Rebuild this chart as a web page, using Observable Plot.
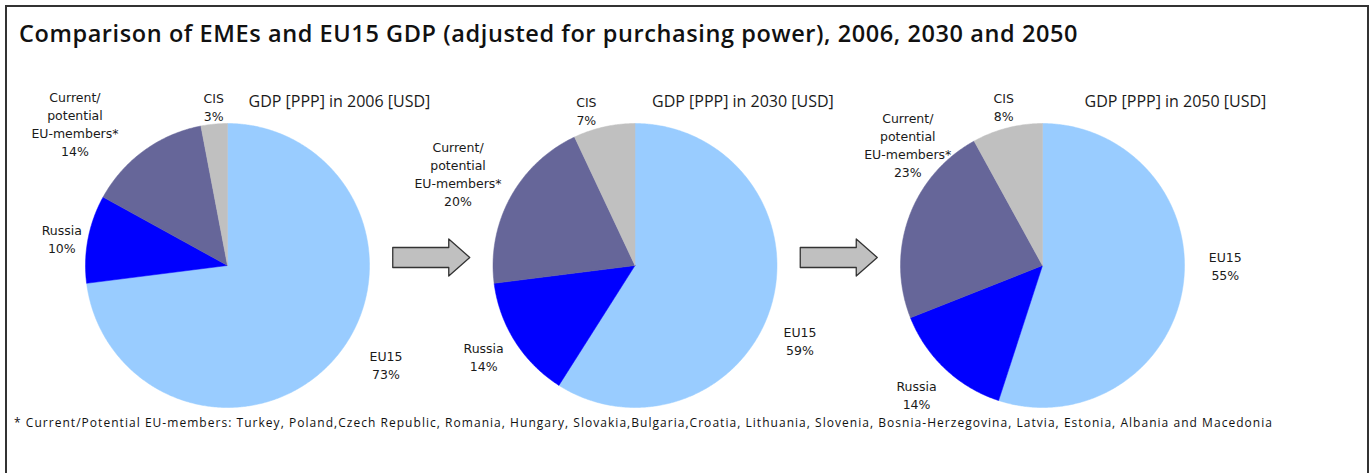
<!DOCTYPE html>
<html><head><meta charset="utf-8">
<script src="https://cdn.jsdelivr.net/npm/d3@7"></script>
<script src="https://cdn.jsdelivr.net/npm/@observablehq/plot@0.6"></script>
<style>
html,body{margin:0;padding:0;background:#fff;}
#wrap{position:relative;width:1372px;height:473px;overflow:hidden;}
#chart{position:absolute;left:0;top:0;}
#frame{position:absolute;left:5px;top:5px;width:1364px;height:480px;border:2px solid #333;border-bottom:none;box-sizing:border-box;pointer-events:none;}
#title{position:absolute;left:19px;top:22px;font-family:"Open Sans";font-weight:600;font-size:23.5px;line-height:23.5px;white-space:nowrap;color:#111;}
#note{position:absolute;left:14px;top:417px;font-family:"Open Sans";font-size:12px;line-height:12px;white-space:nowrap;color:#111;}
</style></head><body>
<div id="wrap"><div id="chart"></div><div id="frame"></div><div id="title"></div><div id="note"></div></div>
<script>
// ---- data ----
const years = [2006, 2030, 2050];
const categories = ["EU15", "Russia", "Current/potential EU-members*", "CIS"];
const labelNames = ["EU15", "Russia", "Current/\npotential\nEU-members*", "CIS"];
const share2006 = [73, 10, 14, 3];
const share2030 = [59, 14, 20, 7];
const share2050 = [55, 14, 23, 8];
const colors = ["#99CCFF", "#0000FF", "#666699", "#C0C0C0"];
const titleText = "Comparison of EMEs and EU15 GDP (adjusted for purchasing power), 2006, 2030 and 2050";
const noteText = "* Current/Potential EU-members: Turkey, Poland,Czech Republic, Romania, Hungary, Slovakia,Bulgaria,Croatia, Lithuania, Slovenia, Bosnia-Herzegovina, Latvia, Estonia, Albania and Macedonia";

// ---- layout ----
const W = 1372, H = 473;
const cx0 = 227, pieStep = 407.5, cy = 265, R = 142;
// manual label nudges (px) per pie, per category, like hand-placed labels in the original
const labelNudge = [
  [[30, -15], [5, 5], [-34, 21], [2, 7]],
  [[4, 28], [-2, -4], [0, 5], [-12, 9]],
  [[19, -26], [-5, 0], [53, -54], [3, 4]]
];
const pieTitleNudge = [21, 17, 42];
const shares = [share2006, share2030, share2050];

const slicePts = [];
const labels = [];
years.forEach((yr, i) => {
  const cx = cx0 + i * pieStep;
  const arcs = d3.pie().sort(null).value(d => d)(shares[i]);
  arcs.forEach((a, j) => {
    const key = yr + "-" + j;
    const cat = categories[j];
    slicePts.push({key, cat, x: cx, y: cy});
    const n = Math.max(2, Math.ceil((a.endAngle - a.startAngle) / (Math.PI / 360)));
    for (let k = 0; k <= n; k++) {
      const t = a.startAngle + (a.endAngle - a.startAngle) * k / n;
      slicePts.push({key, cat, x: cx + R * Math.sin(t), y: cy - R * Math.cos(t)});
    }
    slicePts.push({key, cat, x: cx, y: cy});
    const mid = (a.startAngle + a.endAngle) / 2;
    const text = labelNames[j] + "\n" + shares[i][j] + "%";
    const lines = text.split("\n");
    const w = d3.max(lines, l => l.length) * 7.6, h = lines.length * 18;
    const s = Math.sin(mid), c = Math.cos(mid);
    const d = Math.abs(s) * w / 2 + Math.abs(c) * h / 2 + 6;
    const [nx, ny] = labelNudge[i][j];
    labels.push({text, x: cx + (R + d) * s + nx, y: cy - (R + d) * c + ny});
  });
});

// arrows between pies
const arrowPts = [];
for (let i = 0; i < years.length - 1; i++) {
  const xm = cx0 + (i + 0.5) * pieStep, ym = cy - 8;
  const L = 38.5, bh = 10, hh = 18.5, hl = 21;
  const pts = [[xm - L, ym - bh], [xm + L - hl, ym - bh], [xm + L - hl, ym - hh], [xm + L, ym],
               [xm + L - hl, ym + hh], [xm + L - hl, ym + bh], [xm - L, ym + bh], [xm - L, ym - bh]];
  pts.forEach(p => arrowPts.push({key: "a" + i, x: p[0], y: p[1]}));
}

const pieTitles = years.map((yr, i) => ({x: cx0 + i * pieStep + pieTitleNudge[i], text: `GDP [PPP] in ${yr} [USD]`}));

const plot = Plot.plot({
  width: W, height: H, margin: 0,
  x: {domain: [0, W], range: [0, W], axis: null},
  y: {domain: [0, H], range: [0, H], axis: null},
  color: {domain: categories, range: colors},
  style: {background: "transparent", overflow: "visible"},
  marks: [
    Plot.line(slicePts, {x: "x", y: "y", z: "key", fill: "cat", stroke: "cat", strokeWidth: 0.5, curve: "linear"}),
    Plot.line(arrowPts, {x: "x", y: "y", z: "key", fill: "#C0C0C0", stroke: "#333", strokeWidth: 1.3}),
    Plot.text(labels, {x: "x", y: "y", text: "text", fontFamily: "DejaVu Sans", fontSize: 12.5, lineHeight: 1.45,
      textAnchor: "middle", lineAnchor: "middle", fill: "#1a1a1a", ariaLabel: "pie-labels"}),
    Plot.text(pieTitles, {x: "x", y: () => 101, text: "text", fontFamily: "Open Sans", fontSize: 16,
      textAnchor: "start", lineAnchor: "middle", fill: "#1a1a1a", ariaLabel: "pie-titles"})
  ]
});
document.getElementById("chart").appendChild(plot);
d3.select(plot).selectAll('g[aria-label="pie-labels"] text').style("letter-spacing", "0.6px");
d3.select(plot).selectAll('g[aria-label="pie-titles"] text').each(function () {
  const w0 = this.getComputedTextLength();
  const n = this.textContent.length;
  this.style.letterSpacing = ((197 - w0) / n) + "px";
});

function fit(el, text, target) {
  el.textContent = text;
  el.style.letterSpacing = "0px";
  const w0 = el.getBoundingClientRect().width;
  const ls = (target - w0) / text.length;
  el.style.letterSpacing = ls + "px";
}
fit(document.getElementById("title"), titleText, 1059);
fit(document.getElementById("note"), noteText, 1259);
</script>
</body></html>
